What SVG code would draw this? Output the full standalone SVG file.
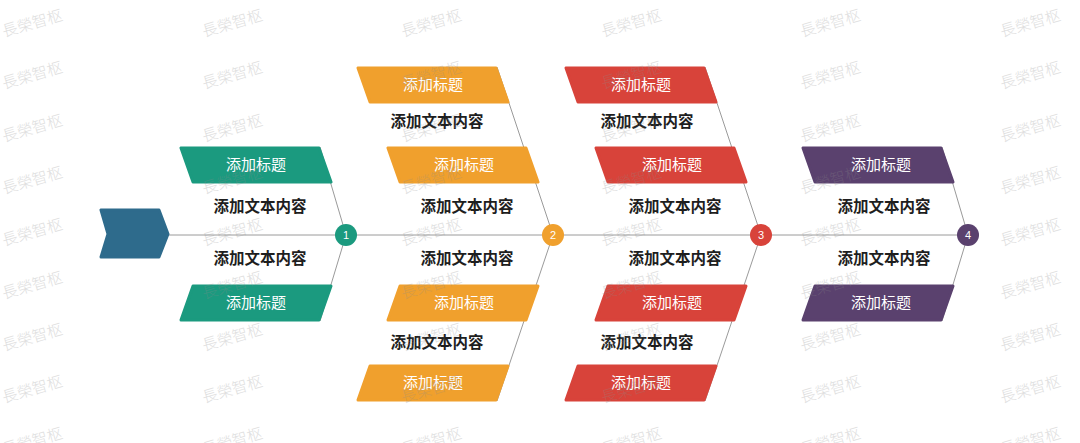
<svg xmlns="http://www.w3.org/2000/svg" width="1080" height="443" viewBox="0 0 1080 443">
<style>
.bone{stroke:#9a9a9a;stroke-width:1;fill:none}
.box{stroke-width:3;stroke-linejoin:round}
.g{fill:#1b9a7f;stroke:#1b9a7f}
.o{fill:#f0a02d;stroke:#f0a02d}
.r{fill:#d8433a;stroke:#d8433a}
.p{fill:#5a416e;stroke:#5a416e}
.title{font-family:"Noto Sans CJK SC","Noto Sans",sans-serif;font-size:15px;fill:#ffffff;text-anchor:middle;dominant-baseline:central}
.body{font-family:"Noto Sans CJK SC","Noto Sans",sans-serif;font-size:15.5px;font-weight:bold;fill:#1e1e1e;text-anchor:middle;dominant-baseline:central}
.num{font-family:"Liberation Sans",Arial,sans-serif;font-size:11px;fill:#ffffff;text-anchor:middle;dominant-baseline:central}
.wm{font-family:"Noto Sans CJK SC",sans-serif;font-size:15.5px;font-weight:300;fill:#8c8c8c;opacity:0.28}
</style>
<rect width="1080" height="443" fill="#ffffff"/>
<g id="connectors">
<line class="bone" x1="165" y1="235" x2="968" y2="235"/>
<line class="bone" x1="346" y1="235" x2="320" y2="147"/>
<line class="bone" x1="346" y1="235" x2="320" y2="321"/>
<line class="bone" x1="553" y1="235" x2="497" y2="67"/>
<line class="bone" x1="553" y1="235" x2="497" y2="401"/>
<line class="bone" x1="761" y1="235" x2="705" y2="67"/>
<line class="bone" x1="761" y1="235" x2="705" y2="401"/>
<line class="bone" x1="968" y1="235" x2="942" y2="147"/>
<line class="bone" x1="968" y1="235" x2="942" y2="321"/>
</g>
<g id="head">
<polygon points="101,210 159,210 168,234 159,257 101,257 108,234" fill="#2e6b8c" stroke="#2e6b8c" stroke-width="3" stroke-linejoin="round"/>
</g>
<g id="stage1">
<polygon class="box g" points="181,148 319,148 331,182 193,182"/>
<text class="title" x="256" y="163">添加标题</text>
<polygon class="box g" points="193,286 331,286 319,320 181,320"/>
<text class="title" x="256" y="301">添加标题</text>
<text class="body" x="260" y="205">添加文本内容</text>
<text class="body" x="260" y="257">添加文本内容</text>
<circle cx="346" cy="235" r="11" fill="#1b9a7f"/>
<text class="num" x="346" y="235">1</text>
</g>
<g id="stage2">
<polygon class="box o" points="358,68 496,68 508,102 370,102"/>
<text class="title" x="433" y="83">添加标题</text>
<polygon class="box o" points="388,148 526,148 538,182 400,182"/>
<text class="title" x="464" y="163">添加标题</text>
<polygon class="box o" points="400,286 538,286 526,320 388,320"/>
<text class="title" x="464" y="301">添加标题</text>
<polygon class="box o" points="370,366 508,366 496,400 358,400"/>
<text class="title" x="433" y="381">添加标题</text>
<text class="body" x="437" y="120">添加文本内容</text>
<text class="body" x="467" y="205">添加文本内容</text>
<text class="body" x="467" y="257">添加文本内容</text>
<text class="body" x="437" y="341">添加文本内容</text>
<circle cx="553" cy="235" r="11" fill="#f0a02d"/>
<text class="num" x="553" y="235">2</text>
</g>
<g id="stage3">
<polygon class="box r" points="566,68 704,68 716,102 578,102"/>
<text class="title" x="641" y="83">添加标题</text>
<polygon class="box r" points="596,148 734,148 746,182 608,182"/>
<text class="title" x="672" y="163">添加标题</text>
<polygon class="box r" points="608,286 746,286 734,320 596,320"/>
<text class="title" x="672" y="301">添加标题</text>
<polygon class="box r" points="578,366 716,366 704,400 566,400"/>
<text class="title" x="641" y="381">添加标题</text>
<text class="body" x="647" y="120">添加文本内容</text>
<text class="body" x="675" y="205">添加文本内容</text>
<text class="body" x="675" y="257">添加文本内容</text>
<text class="body" x="647" y="341">添加文本内容</text>
<circle cx="761" cy="235" r="11" fill="#d8433a"/>
<text class="num" x="761" y="235">3</text>
</g>
<g id="stage4">
<polygon class="box p" points="803,148 941,148 953,182 815,182"/>
<text class="title" x="881" y="163">添加标题</text>
<polygon class="box p" points="815,286 953,286 941,320 803,320"/>
<text class="title" x="881" y="301">添加标题</text>
<text class="body" x="884" y="205">添加文本内容</text>
<text class="body" x="884" y="257">添加文本内容</text>
<circle cx="968" cy="235" r="11" fill="#5a416e"/>
<text class="num" x="968" y="235">4</text>
</g>
<g id="watermark">
<defs><text id="wm" class="wm" transform="rotate(-16)">長榮智枢</text></defs>
<g transform="translate(4,37)"><use href="#wm"/><use href="#wm" transform="translate(0,52)"/><use href="#wm" transform="translate(0,105)"/><use href="#wm" transform="translate(0,157)"/><use href="#wm" transform="translate(0,209)"/><use href="#wm" transform="translate(0,262)"/><use href="#wm" transform="translate(0,314)"/><use href="#wm" transform="translate(0,366)"/><use href="#wm" transform="translate(0,418)"/></g>
<g transform="translate(204,37)"><use href="#wm"/><use href="#wm" transform="translate(0,52)"/><use href="#wm" transform="translate(0,105)"/><use href="#wm" transform="translate(0,157)"/><use href="#wm" transform="translate(0,209)"/><use href="#wm" transform="translate(0,262)"/><use href="#wm" transform="translate(0,314)"/><use href="#wm" transform="translate(0,366)"/><use href="#wm" transform="translate(0,418)"/></g>
<g transform="translate(403,37)"><use href="#wm"/><use href="#wm" transform="translate(0,52)"/><use href="#wm" transform="translate(0,105)"/><use href="#wm" transform="translate(0,157)"/><use href="#wm" transform="translate(0,209)"/><use href="#wm" transform="translate(0,262)"/><use href="#wm" transform="translate(0,314)"/><use href="#wm" transform="translate(0,366)"/><use href="#wm" transform="translate(0,418)"/></g>
<g transform="translate(603,37)"><use href="#wm"/><use href="#wm" transform="translate(0,52)"/><use href="#wm" transform="translate(0,105)"/><use href="#wm" transform="translate(0,157)"/><use href="#wm" transform="translate(0,209)"/><use href="#wm" transform="translate(0,262)"/><use href="#wm" transform="translate(0,314)"/><use href="#wm" transform="translate(0,366)"/><use href="#wm" transform="translate(0,418)"/></g>
<g transform="translate(802,37)"><use href="#wm"/><use href="#wm" transform="translate(0,52)"/><use href="#wm" transform="translate(0,105)"/><use href="#wm" transform="translate(0,157)"/><use href="#wm" transform="translate(0,209)"/><use href="#wm" transform="translate(0,262)"/><use href="#wm" transform="translate(0,314)"/><use href="#wm" transform="translate(0,366)"/><use href="#wm" transform="translate(0,418)"/></g>
<g transform="translate(1002,37)"><use href="#wm"/><use href="#wm" transform="translate(0,52)"/><use href="#wm" transform="translate(0,105)"/><use href="#wm" transform="translate(0,157)"/><use href="#wm" transform="translate(0,209)"/><use href="#wm" transform="translate(0,262)"/><use href="#wm" transform="translate(0,314)"/><use href="#wm" transform="translate(0,366)"/><use href="#wm" transform="translate(0,418)"/></g>
</g>
</svg>
